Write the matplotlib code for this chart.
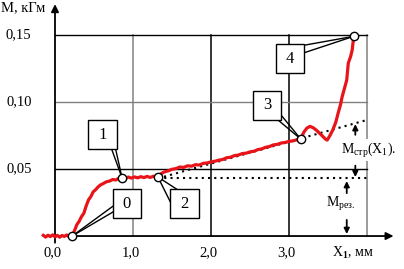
import matplotlib
matplotlib.use("Agg")
import matplotlib.pyplot as plt
from matplotlib.patches import Rectangle

plt.rcParams["font.family"] = ["Liberation Serif", "DejaVu Serif"]
plt.rcParams["mathtext.fontset"] = "custom"
plt.rcParams["mathtext.rm"] = "Liberation Serif"
plt.rcParams["mathtext.it"] = "Liberation Serif:italic"
plt.rcParams["mathtext.bf"] = "Liberation Serif:bold"

x_mm = [-0.15, -0.12, -0.09, -0.06, -0.03, 0.0, 0.03, 0.06, 0.09, 0.12, 0.15, 0.18, 0.22,
        0.25, 0.28, 0.31, 0.34, 0.37, 0.40, 0.43, 0.46, 0.49, 0.52, 0.55, 0.58, 0.62, 0.66,
        0.70, 0.74, 0.78, 0.82, 0.86,
        0.90, 0.94, 0.98, 1.02, 1.06, 1.10, 1.14, 1.18, 1.22, 1.26, 1.32,
        1.36, 1.40, 1.45, 1.50, 1.55, 1.60, 1.65, 1.70, 1.75, 1.80, 1.85, 1.90, 1.95, 2.00,
        2.05, 2.10, 2.15, 2.20, 2.25, 2.30, 2.35, 2.40, 2.45, 2.50, 2.55, 2.60, 2.65, 2.70,
        2.75, 2.80, 2.85, 2.90, 2.95, 3.00, 3.05, 3.10, 3.15,
        3.19, 3.23, 3.27, 3.31, 3.35, 3.39, 3.43, 3.47, 3.49, 3.52, 3.56, 3.60, 3.63, 3.66,
        3.68, 3.71, 3.74, 3.75, 3.76, 3.79, 3.81, 3.82, 3.83]
m_kgm = [0.0005, -0.0008, 0.0006, -0.0004, 0.0009, -0.0006, 0.0005, -0.0009, 0.0004, -0.0003, 0.0008, -0.0005, 0.0,
         0.0040, 0.0085, 0.0110, 0.0145, 0.0170, 0.0225, 0.0270, 0.0295, 0.0330, 0.0345, 0.0365, 0.0380, 0.0392, 0.0405,
         0.0410, 0.0422, 0.0418, 0.0432, 0.0433,
         0.0428, 0.0440, 0.0432, 0.0441, 0.0434, 0.0443, 0.0436, 0.0445, 0.0437, 0.0446, 0.0440,
         0.0465, 0.0478, 0.0486, 0.0498, 0.0503, 0.0515, 0.0512, 0.0524, 0.0521, 0.0532, 0.0530, 0.0542, 0.0545, 0.0553,
         0.0558, 0.0566, 0.0571, 0.0584, 0.0588, 0.0600, 0.0604, 0.0615, 0.0618, 0.0628, 0.0632, 0.0645, 0.0650, 0.0662,
         0.0668, 0.0680, 0.0684, 0.0694, 0.0698, 0.0706, 0.0710, 0.0718, 0.0724,
         0.0775, 0.0806, 0.0818, 0.0808, 0.0790, 0.0768, 0.0745, 0.0722, 0.0716, 0.0745, 0.0790, 0.0850, 0.0918, 0.0980,
         0.1037, 0.1100, 0.1164, 0.1230, 0.1290, 0.1340, 0.1388, 0.1440, 0.1490]

# numbered points on the curve
pt_labels = ["0", "1", "2", "3", "4"]
pt_x = [0.22, 0.86, 1.32, 3.15, 3.83]
pt_y = [0.0, 0.0433, 0.0440, 0.0724, 0.1490]

# residual torque level and friction line M_стр(X1)
m_res = 0.043
fric_x = [1.32, 4.0]
fric_y = [0.043, 0.0866]

x_ticks = [0.0, 1.0, 2.0, 3.0]
x_tick_labels = ["0,0", "1,0", "2,0", "3,0"]
y_ticks = [0.05, 0.10, 0.15]
y_tick_labels = ["0,05", "0,10", "0,15"]

# callout boxes: centre, and anchor points on the box (fractions of width/height)
box_cx = [0.923, 0.609, 1.66, 2.718, 3.013]
box_cy = [0.0242, 0.0754, 0.0242, 0.0974, 0.1324]
box_anchors = [
    [(0.0, 0.41), (0.0, 0.21)],
    [(0.83, 0.0), (0.97, 0.0)],
    [(0.0, 0.55), (0.22, 1.0)],
    [(0.89, 0.0), (1.0, 0.17)],
    [(1.0, 0.96), (1.0, 0.70)],
]
BOX_W, BOX_H = 0.36, 0.0216

GRAY = "#808080"

fig = plt.figure(figsize=(4.04, 2.69), dpi=100)
ax = fig.add_axes([0, 0, 1, 1])
ax.set_xlim(-0.705, 4.474)
ax.set_ylim(-0.0246, 0.1761)
ax.axis("off")

# grid
v_colors = {1.0: GRAY, 2.0: "k", 3.0: "k", 4.0: GRAY}
for xv, c in v_colors.items():
    ax.plot([xv, xv], [0, 0.15], color=c, lw=1.1, zorder=1)
h_colors = {0.05: "k", 0.10: GRAY, 0.15: "k"}
for yv, c in h_colors.items():
    ax.plot([0, 4.0], [yv, yv], color=c, lw=1.0, zorder=1)

# axes with arrows
ax.annotate("", xy=(4.34, 0), xytext=(-0.02, 0),
            arrowprops=dict(arrowstyle="-|>", color="k", lw=1.3, mutation_scale=11,
                            shrinkA=0, shrinkB=0), zorder=2)
ax.annotate("", xy=(0, 0.173), xytext=(0, -0.005),
            arrowprops=dict(arrowstyle="-|>", color="k", lw=1.3, mutation_scale=11,
                            shrinkA=0, shrinkB=0), zorder=2)

# dotted construction lines
ax.plot([pt_x[2], 4.0], [m_res, m_res], color="k", lw=1.5, ls=(0, (1, 2)), zorder=2)
ax.plot(fric_x, fric_y, color="k", lw=1.5, ls=(0, (1, 2)), zorder=2)

# measured curve
ax.plot(x_mm, m_kgm, color="#e8141a", lw=2.3, zorder=3, solid_joinstyle="round")

# callouts
for i, lab in enumerate(pt_labels):
    x0 = box_cx[i] - BOX_W / 2
    y0 = box_cy[i] - BOX_H / 2
    for fx, fy in box_anchors[i]:
        ax.plot([x0 + fx * BOX_W, pt_x[i]], [y0 + fy * BOX_H, pt_y[i]],
                color="k", lw=1.0, zorder=4)
    ax.add_patch(Rectangle((x0, y0), BOX_W, BOX_H, facecolor="white",
                           edgecolor="k", lw=1.0, zorder=5))
    ax.text(box_cx[i], box_cy[i], lab, ha="center", va="center",
            fontsize=12, zorder=6)

ax.plot(pt_x, pt_y, "o", ms=6, mfc="white", mec="k", mew=1.0, zorder=7)

# tick labels
for xv, lab in zip(x_ticks, x_tick_labels):
    ax.text(xv - 0.03, -0.0125, lab, ha="center", va="center", fontsize=10.5)
for yv, lab in zip(y_ticks, y_tick_labels):
    ax.text(-0.3, yv, lab, ha="right", va="center", fontsize=10.5)

ax.text(-0.69, 0.1705, "M, кГм", ha="left", va="center", fontsize=10.5)
ax.text(3.82, -0.0125, r"X$_\mathbf{1}$, мм", ha="center", va="center", fontsize=10)

# arrows for M_стр(X1) and M_рез
arr = dict(arrowstyle="-|>", color="k", lw=1.3, mutation_scale=8, shrinkA=0, shrinkB=0)
ax.annotate("", xy=(3.85, 0.0835), xytext=(3.85, 0.0755), arrowprops=arr, zorder=8)
ax.annotate("", xy=(3.85, 0.0440), xytext=(3.85, 0.0525), arrowprops=arr, zorder=8)
ax.annotate("", xy=(3.74, 0.0410), xytext=(3.74, 0.0320), arrowprops=arr, zorder=8)
ax.annotate("", xy=(3.74, 0.0015), xytext=(3.74, 0.0120), arrowprops=arr, zorder=8)

ax.text(3.66, 0.064, r"M$_{\mathrm{стр}}$(X$_1$).", ha="left", va="center", fontsize=10,
        zorder=9, bbox=dict(facecolor="white", edgecolor="none", pad=1.0))
ax.text(3.66, 0.0240, r"M$_{\mathrm{рез.}}$", ha="center", va="center", fontsize=10, zorder=9)

fig.savefig("out.png", dpi=100)
